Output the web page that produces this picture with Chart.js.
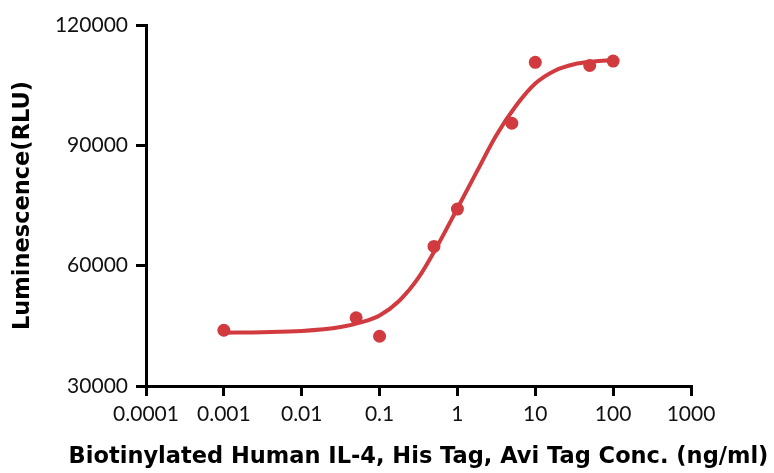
<!DOCTYPE html>
<html>
<head>
<meta charset="utf-8">
<script src="https://cdn.jsdelivr.net/npm/chart.js@4"></script>
<style>
  body { margin: 0; background: #fff; }
  #wrap { width: 774px; height: 473px; }
</style>
</head>
<body>
<div id="wrap"><canvas id="graphique" width="774" height="473"></canvas></div>
<script>
// measured points
const concs = [0.001, 0.05, 0.1, 0.5, 1, 5, 10, 50, 100];
const rlu = [43900, 47000, 42400, 64800, 74100, 95500, 110700, 109900, 111000];

// fitted curve
const fitX = [0.001, 0.00316, 0.01, 0.0316, 0.056, 0.1, 0.178, 0.316, 0.562, 1, 1.78, 3.16, 5.62, 10, 17.8, 31.6, 56.2, 100];
const fitY = [43300, 43400, 43700, 44700, 45800, 47600, 51200, 57000, 65200, 74300, 83500, 92500, 99800, 105400, 108600, 110200, 110900, 111300];

const xTicks = [0.0001, 0.001, 0.01, 0.1, 1, 10, 100, 1000];
const yTicks = [30000, 60000, 90000, 120000];

const xTitle = 'Biotinylated Human IL-4, His Tag, Avi Tag Conc. (ng/ml)';
const yTitle = 'Luminescence(RLU)';

const red = 'rgb(209,58,62)';
const titleFont = { family: 'DejaVu Sans', size: 22.5, weight: 'bold' };

function toPts(xs, ys) {
  const out = [];
  xs.forEach((x, i) => out.push({ x: x, y: ys[i] }));
  return out;
}

// chart.js squeezes the axis title to the axis width, the original runs wider
const xTitlePlugin = {
  id: 'xTitle',
  afterDraw(chart) {
    const c = chart.ctx;
    const sx = chart.scales.x;
    c.save();
    c.font = 'bold ' + titleFont.size + 'px "' + titleFont.family + '"';
    c.fillStyle = '#000';
    c.textAlign = 'center';
    c.textBaseline = 'middle';
    c.fillText(xTitle, (sx.left + sx.right) / 2, sx.bottom - 16);
    c.restore();
  }
};

const ctx = document.getElementById('graphique');
new Chart(ctx, {
  type: 'scatter',
  data: {
    datasets: [{
      label: 'fit',
      data: toPts(fitX, fitY),
      showLine: true,
      borderColor: red,
      borderWidth: 4,
      pointRadius: 0,
      cubicInterpolationMode: 'monotone'
    }, {
      label: 'data',
      data: toPts(concs, rlu),
      backgroundColor: red,
      borderColor: red,
      pointRadius: 6.5,
      pointBorderWidth: 0
    }]
  },
  plugins: [xTitlePlugin],
  options: {
    responsive: false,
    animation: false,
    layout: { padding: { left: 0, top: 25, right: 83, bottom: 0 } },
    plugins: { legend: { display: false }, tooltip: { enabled: false } },
    scales: {
      x: {
        type: 'logarithmic',
        min: 0.0001,
        max: 1000,
        afterBuildTicks: s => { s.ticks = xTicks.map(v => ({ value: v })); },
        afterFit: s => { s.height = 87; },
        border: { display: true, color: '#000', width: 3 },
        grid: { drawOnChartArea: false, color: '#000', lineWidth: 3, tickLength: 10 },
        ticks: {
          color: '#111',
          font: { family: 'Lato', size: 21 },
          padding: 6,
          maxRotation: 0,
          callback: v => String(v)
        },
        title: { display: false }
      },
      y: {
        min: 30000,
        max: 120000,
        afterBuildTicks: s => { s.ticks = yTicks.map(v => ({ value: v })); },
        afterFit: s => { s.width = 146; },
        border: { display: true, color: '#000', width: 3 },
        grid: { drawOnChartArea: false, color: '#000', lineWidth: 3, tickLength: 10 },
        ticks: {
          color: '#111',
          font: { family: 'Lato', size: 21 },
          padding: 8,
          callback: v => String(v)
        },
        title: {
          display: true,
          text: yTitle,
          color: '#000',
          font: titleFont,
          padding: { top: 10, bottom: 0 }
        }
      }
    }
  }
});
</script>
</body>
</html>
